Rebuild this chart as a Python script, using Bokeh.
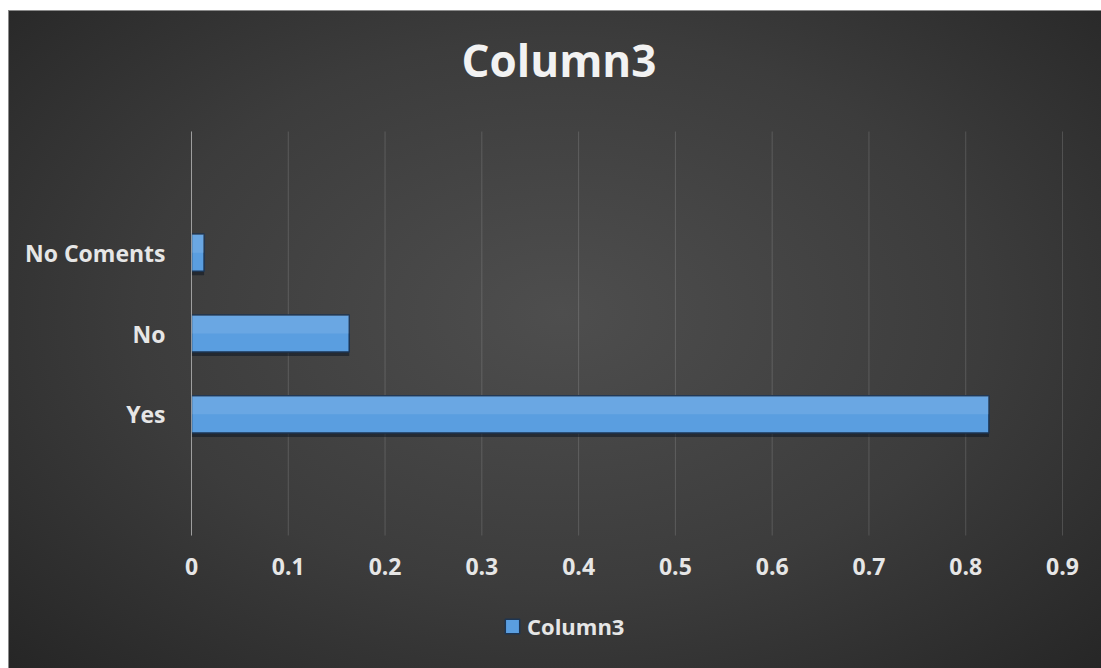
from bokeh.plotting import figure
from bokeh.models import (Range1d, FixedTicker, Legend, LegendItem, InlineStyleSheet,
                          ColumnDataSource, NumeralTickFormatter)
from bokeh.transform import dodge
from bokeh.embed import file_html
from bokeh.resources import INLINE

# ---- data ----
title_text = "Column3"
series_name = "Column3"
categories = ["Yes", "No", "No Coments"]
values = [0.824, 0.163, 0.013]
category_slots = [1, 2, 3]          # Excel shows 5 slots, two of them empty
x_ticks = [0, 0.1, 0.2, 0.3, 0.4, 0.5, 0.6, 0.7, 0.8, 0.9]

FONT = "Open Sans"
TXT = "#e6e6e6"

# ---- layout (pixels) ----
W, H = 1101, 668
FRAME_TOP = 114                            # below the title panel
PLOT_LEFT, PLOT_RIGHT = 191, 1062          # plot area inside the chart
PLOT_TOP, PLOT_BOTTOM = 131, 535
X_LO, X_HI = 0.0, 0.9
SLOT_LO, SLOT_HI = -0.5, 4.5               # 5 category slots
px_per_x = (PLOT_RIGHT - PLOT_LEFT) / (X_HI - X_LO)
px_per_slot = (PLOT_BOTTOM - PLOT_TOP) / (SLOT_HI - SLOT_LO)
x_start = X_LO - PLOT_LEFT / px_per_x
x_end = X_HI + (W - PLOT_RIGHT) / px_per_x
y_start = SLOT_LO - (H - PLOT_BOTTOM) / px_per_slot
y_end = SLOT_HI + (PLOT_TOP - FRAME_TOP) / px_per_slot

src = ColumnDataSource(dict(y=category_slots, value=values, cat=categories))

p = figure(width=W, height=H, output_backend="svg", toolbar_location=None,
           x_range=Range1d(x_start, x_end), y_range=Range1d(y_start, y_end),
           min_border_left=0, min_border_right=0, min_border_top=FRAME_TOP,
           min_border_bottom=0)

p.background_fill_color = None
p.border_fill_color = None
p.outline_line_color = None
p.stylesheets = [InlineStyleSheet(css=""":host {
  background: radial-gradient(ellipse 70% 75% at 51% 47%, #4e4e4e 0%, #3c3c3c 55%, #262626 100%);
  box-shadow: inset 8px 10px 0 0 #ffffff, inset 9px 11px 0 0 #8a8a8a;
}""")]

# title
p.title.text = title_text
p.title.align = "left"
p.title.offset = 461
p.title.text_font = FONT
p.title.text_font_style = "bold"
p.title.text_font_size = "44px"
p.title.text_color = "#f2f2f2"
p.title.standoff = 50

# x axis, pinned to the bottom of the plot area
p.xaxis.fixed_location = SLOT_LO
p.xaxis.bounds = (X_LO, X_HI)
p.xaxis.ticker = FixedTicker(ticks=x_ticks)
p.xaxis.formatter = NumeralTickFormatter(format="0.[0]")
p.xaxis.axis_line_color = None
p.xaxis.major_tick_line_color = None
p.xaxis.minor_tick_line_color = None
p.xaxis.major_label_text_font = FONT
p.xaxis.major_label_text_font_style = "bold"
p.xaxis.major_label_text_font_size = "23px"
p.xaxis.major_label_text_color = TXT
p.xaxis.major_label_standoff = 16

# y axis, pinned at x = 0
p.yaxis.fixed_location = X_LO
p.yaxis.ticker = FixedTicker(ticks=category_slots)
p.yaxis.bounds = (SLOT_LO, SLOT_HI)
p.yaxis.major_label_overrides = {s: c for s, c in zip(category_slots, categories)}
p.yaxis.axis_line_color = "#b0b0b0"
p.yaxis.axis_line_alpha = 0.8
p.yaxis.major_tick_line_color = None
p.yaxis.minor_tick_line_color = None
p.yaxis.major_tick_out = 0
p.yaxis.major_tick_in = 0
p.yaxis.major_label_text_font = FONT
p.yaxis.major_label_text_font_style = "bold"
p.yaxis.major_label_text_font_size = "23px"
p.yaxis.major_label_text_color = TXT
p.yaxis.major_label_standoff = 26

# vertical gridlines limited to the plot area
p.xgrid.visible = False
p.ygrid.visible = False
p.segment(x0=x_ticks, y0=SLOT_LO, x1=x_ticks, y1=SLOT_HI,
          line_color="#ffffff", line_alpha=0.15, line_width=1)

# bars
bar_h = 0.46
p.hbar(y=dodge("y", -0.05, range=p.y_range), left=0, right="value", height=bar_h,
       source=src, fill_color="#0c1622", fill_alpha=0.55, line_color=None)
main = p.hbar(y="y", left=0, right="value", height=bar_h, source=src,
              fill_color="#5a9ee0", line_color="#1d3552", line_width=1.5)
p.hbar(y=dodge("y", bar_h / 4, range=p.y_range), left=0, right="value", height=bar_h / 2,
       source=src, fill_color="#ffffff", fill_alpha=0.1, line_color=None)

legend = Legend(items=[LegendItem(label=series_name, renderers=[main])],
                location=(503, 27), orientation="horizontal",
                padding=0, margin=0, glyph_width=18, glyph_height=18,
                label_standoff=6, background_fill_alpha=0, border_line_color=None,
                label_text_font=FONT, label_text_font_style="bold",
                label_text_font_size="22px", label_text_color=TXT)
p.add_layout(legend, "center")

open("out.html", "w").write(file_html(p, INLINE))
